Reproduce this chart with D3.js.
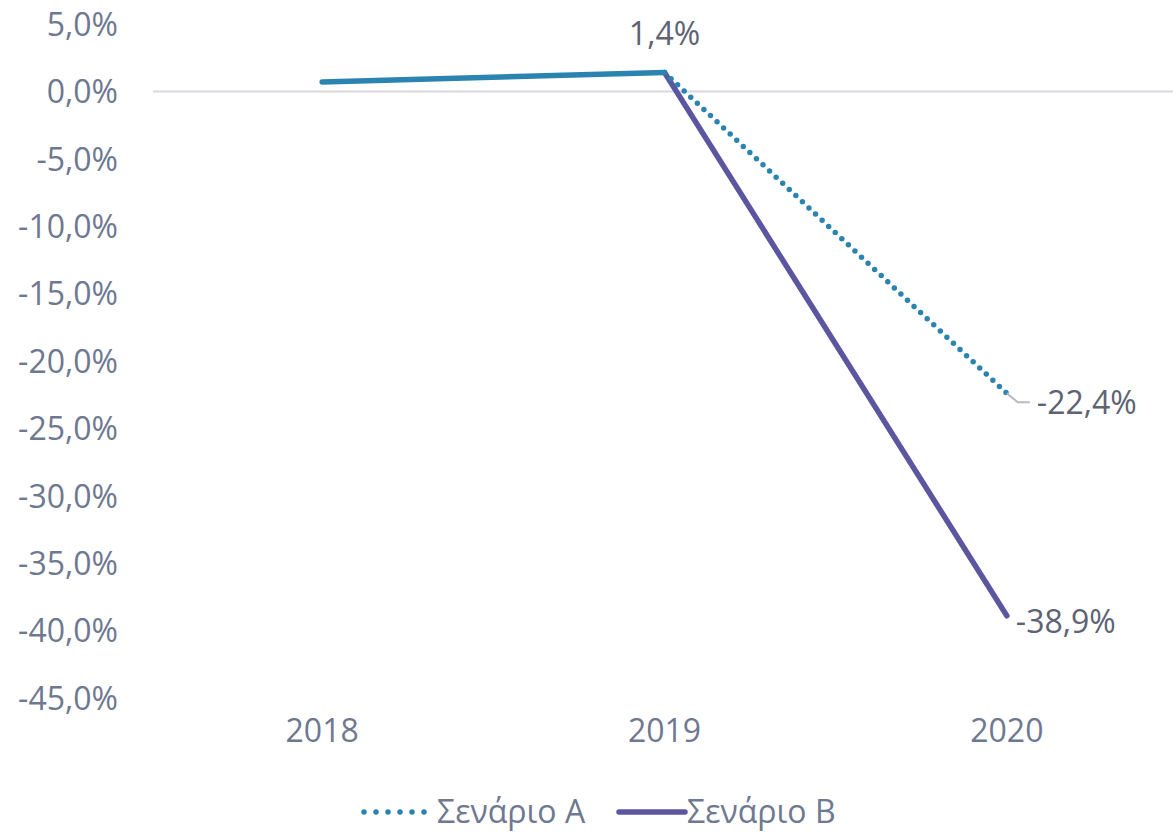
<!DOCTYPE html>
<html>
<head>
<meta charset="utf-8">
<script src="https://cdn.jsdelivr.net/npm/d3@7"></script>
<style>
  body { margin: 0; background: #fff; }
  svg { display: block; }
  svg text { font-family: 'Open Sans', sans-serif; }
</style>
</head>
<body>
<div id="chart"></div>
<script>
const YEARS = ['2018', '2019', '2020']
const SCENARIO_A = [0.7, 1.4, -22.4] // 2018-2019 actual, 2019-2020 scenario
const SCENARIO_B = [null, 1.4, -38.9]
const Y_TICKS = [5, 0, -5, -10, -15, -20, -25, -30, -35, -40, -45]
const SERIES_NAMES = ['Σενάριο A', 'Σενάριο B']

const W = 1173
const H = 832
const margin = { top: 24, right: -5, bottom: 134, left: 151 }
const COLOR_A = '#2b84b0'
const COLOR_B = '#5c56a0'
const AXIS_TEXT = '#6e7891'
const LABEL_TEXT = '#5d6373'
const FONT = "'Open Sans', sans-serif"
const FS = '32px'

const fmt = v => d3.format('.1f')(v).replace('.', ',').replace('−', '-') + '%'

const svg = d3.select('#chart').append('svg')
  .attr('width', W)
  .attr('height', H)

const x = d3.scaleBand()
  .domain(YEARS)
  .range([margin.left, W - margin.right])

const y = d3.scaleLinear()
  .domain([-45, 5])
  .range([H - margin.bottom, margin.top])

const cx = d => x(d) + x.bandwidth() / 2

// y axis labels
const yAxis = svg.append('g')
  .attr('transform', `translate(${margin.left - 33},0)`)
  .call(d3.axisLeft(y).tickValues(Y_TICKS).tickFormat(fmt).tickSize(0).tickPadding(0))
yAxis.attr('font-family', FONT)
yAxis.select('.domain').remove()
yAxis.selectAll('text')
  .attr('fill', AXIS_TEXT)
  .style('font-size', FS)
  .attr('dy', '0.35em')

// zero line
svg.append('line')
  .attr('x1', margin.left + 2).attr('x2', W)
  .attr('y1', y(0)).attr('y2', y(0))
  .attr('stroke', '#d9d9e1')
  .attr('stroke-width', 2)

// x axis labels
const xAxis = svg.append('g')
  .attr('transform', `translate(0,${y(-45) + 21})`)
  .call(d3.axisBottom(x).tickSize(0).tickPadding(0))
xAxis.attr('font-family', FONT)
xAxis.select('.domain').remove()
xAxis.selectAll('text')
  .attr('fill', AXIS_TEXT)
  .style('font-size', FS)
  .attr('dy', '0.71em')

const line = d3.line()
  .defined(d => d.v !== null)
  .x(d => cx(d.year))
  .y(d => y(d.v))

const ptsA = YEARS.map((year, i) => ({ year, v: SCENARIO_A[i] }))
const ptsB = YEARS.map((year, i) => ({ year, v: SCENARIO_B[i] }))

// scenario B (solid purple)
svg.append('path')
  .datum(ptsB)
  .attr('d', line)
  .attr('fill', 'none')
  .attr('stroke', COLOR_B)
  .attr('stroke-width', 5.5)
  .attr('stroke-linecap', 'round')
  .attr('stroke-linejoin', 'round')

// scenario A: solid history, dotted projection
svg.append('path')
  .datum(ptsA.slice(0, 2))
  .attr('d', line)
  .attr('fill', 'none')
  .attr('stroke', COLOR_A)
  .attr('stroke-width', 5.5)
  .attr('stroke-linecap', 'round')

svg.append('path')
  .datum(ptsA.slice(1))
  .attr('d', line)
  .attr('fill', 'none')
  .attr('stroke', COLOR_A)
  .attr('stroke-width', 5.5)
  .attr('stroke-linecap', 'round')
  .attr('stroke-dasharray', '0 9')

// data labels
const lblStyle = sel => sel.attr('fill', LABEL_TEXT).style('font-size', FS)

svg.append('text')
  .attr('x', cx('2019'))
  .attr('y', y(SCENARIO_A[1]) - 28)
  .attr('text-anchor', 'middle')
  .call(lblStyle)
  .text(fmt(SCENARIO_A[1]))

const ax = cx('2020')
const ay = y(SCENARIO_A[2])
svg.append('polyline')
  .attr('points', `${ax},${ay} ${ax + 11},${ay + 9} ${ax + 23},${ay + 9}`)
  .attr('fill', 'none')
  .attr('stroke', '#b9b9c3')
  .attr('stroke-width', 2)

svg.append('text')
  .attr('x', ax + 30)
  .attr('y', ay + 9)
  .attr('dy', '0.35em')
  .call(lblStyle)
  .text(fmt(SCENARIO_A[2]))

svg.append('text')
  .attr('x', ax + 9)
  .attr('y', y(SCENARIO_B[2]) + 6)
  .attr('dy', '0.35em')
  .call(lblStyle)
  .text(fmt(SCENARIO_B[2]))

// legend
const legend = svg.append('g').attr('transform', `translate(0,${H - 20})`)
legend.append('line')
  .attr('x1', 364).attr('x2', 425)
  .attr('stroke', COLOR_A)
  .attr('stroke-width', 5.5)
  .attr('stroke-linecap', 'round')
  .attr('stroke-dasharray', '0 12')
legend.append('text')
  .attr('x', 437).attr('dy', '0.35em')
  .attr('fill', AXIS_TEXT)
  .style('font-size', FS)
  .text(SERIES_NAMES[0])
legend.append('line')
  .attr('x1', 619).attr('x2', 685)
  .attr('stroke', COLOR_B)
  .attr('stroke-width', 5.5)
  .attr('stroke-linecap', 'round')
legend.append('text')
  .attr('x', 687).attr('dy', '0.35em')
  .attr('fill', AXIS_TEXT)
  .style('font-size', FS)
  .text(SERIES_NAMES[1])
</script>
</body>
</html>
